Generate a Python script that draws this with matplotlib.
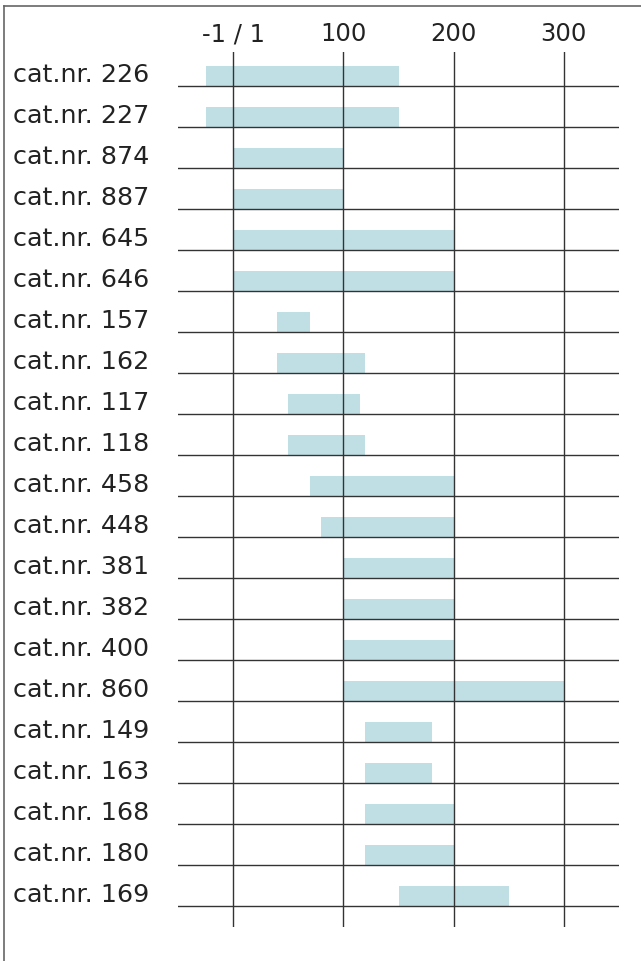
import matplotlib
matplotlib.use("Agg")
import matplotlib.pyplot as plt
import matplotlib.transforms as mtransforms
from matplotlib.lines import Line2D

plt.rcParams['font.family'] = ['DejaVu Sans']

categories = ["cat.nr. 226", "cat.nr. 227", "cat.nr. 874", "cat.nr. 887",
              "cat.nr. 645", "cat.nr. 646", "cat.nr. 157", "cat.nr. 162",
              "cat.nr. 117", "cat.nr. 118", "cat.nr. 458", "cat.nr. 448",
              "cat.nr. 381", "cat.nr. 382", "cat.nr. 400", "cat.nr. 860",
              "cat.nr. 149", "cat.nr. 163", "cat.nr. 168", "cat.nr. 180",
              "cat.nr. 169"]
start = [-25, -25, 0, 0, 0, 0, 40, 40, 50, 50, 70, 80,
         100, 100, 100, 100, 120, 120, 120, 120, 150]
end = [150, 150, 100, 100, 200, 200, 70, 120, 115, 120, 200, 200,
       200, 200, 200, 300, 180, 180, 200, 200, 250]
tick_values = [0, 100, 200, 300]
tick_labels = ["-1 / 1", "100", "200", "300"]

W, H = 641, 961
fig = plt.figure(figsize=(W / 100, H / 100), dpi=100)
fig.patch.set_facecolor("white")

ax_l, ax_r, ax_t, ax_b = 178, 619, 52, 927
ax = fig.add_axes([ax_l / W, 1 - ax_b / H, (ax_r - ax_l) / W, (ax_b - ax_t) / H])
ax.set_xlim(-50, 350)
row_h = 41.0
ax.set_ylim((ax_b - 86) / row_h, (ax_t - 86) / row_h)

bar_h = 20 / row_h
n = len(categories)
ys = list(range(n))
ax.barh([y - bar_h / 2 for y in ys], [e - s for s, e in zip(start, end)],
        left=start, height=bar_h, color="#bfdfe5", zorder=1)

for y in ys:
    ax.axhline(y, color="#333333", lw=1.0, zorder=2)
for v in tick_values:
    ax.axvline(v, color="#333333", lw=1.0, zorder=2)

for s in ax.spines.values():
    s.set_visible(False)
ax.set_yticks([])
ax.xaxis.tick_top()
ax.set_xticks(tick_values)
ax.set_xticklabels(tick_labels, fontsize=17.5, color="#222222")
ax.tick_params(axis="x", length=0, pad=4)

tr = mtransforms.blended_transform_factory(fig.transFigure, ax.transData)
for y, c in zip(ys, categories):
    fig.text(13 / W, y - 0.26, c, transform=tr, ha="left", va="center",
             fontsize=18.3, color="#222222")

# outer frame (top and left)
fig.add_artist(Line2D([4 / W, 1], [1 - 6 / H, 1 - 6 / H], transform=fig.transFigure,
                      color="#666666", lw=1.2))
fig.add_artist(Line2D([4 / W, 4 / W], [0, 1 - 6 / H], transform=fig.transFigure,
                      color="#666666", lw=1.2))

fig.savefig("out.png", dpi=100, facecolor="white")
